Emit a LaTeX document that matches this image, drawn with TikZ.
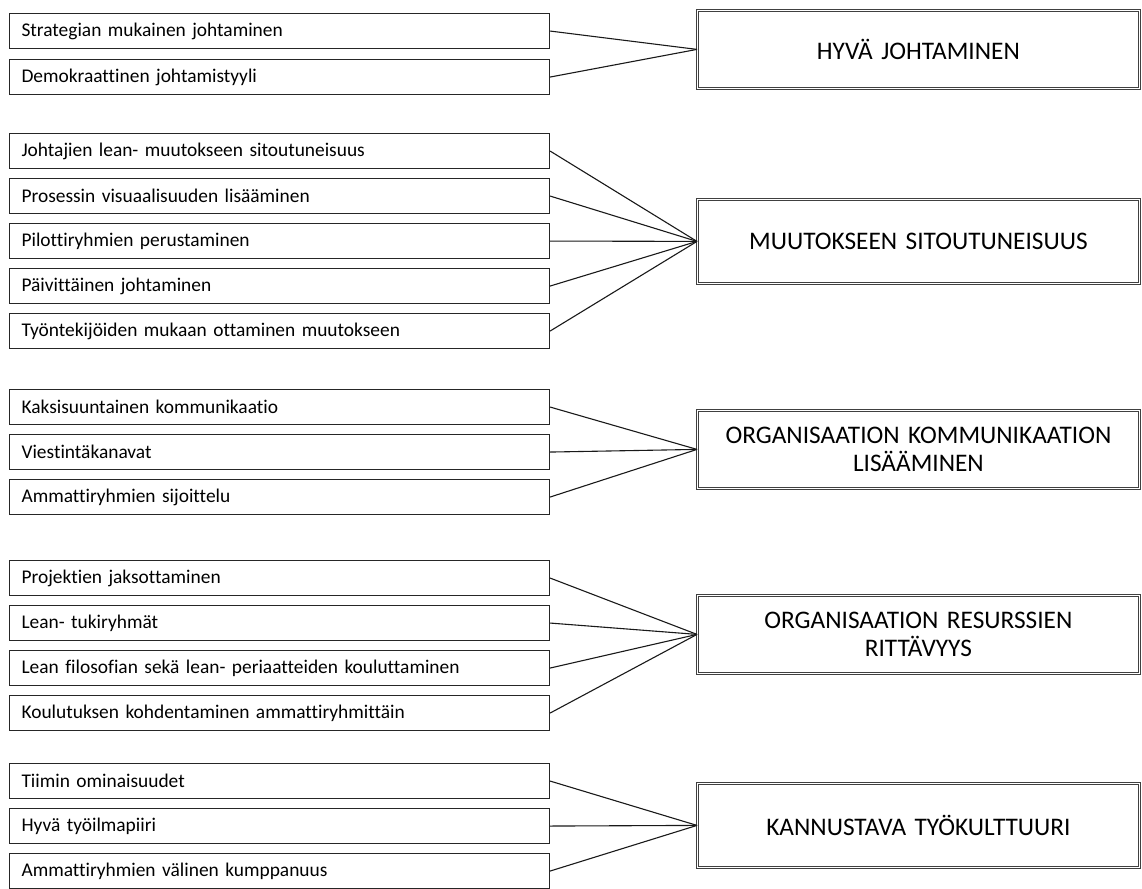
\documentclass[tikz,border=0pt]{standalone}
\usepackage{fontspec}
\setmainfont[Ligatures=CommonOff]{Carlito}
\begin{document}
\begin{tikzpicture}[x=1pt,y=-1pt,
  lbox/.style={draw=black!85,line width=1.1pt,anchor=north west,minimum width=540pt,minimum height=35pt,
    text width=516pt,align=left,inner xsep=11pt,font=\fontsize{19.4}{22}\selectfont},
  rbox/.style={draw=black!75,double=white,double distance=1.6pt,line width=0.8pt,anchor=north west,
    minimum width=442pt,text width=430pt,align=center,font=\fontsize{25.3}{28}\selectfont},
  conn/.style={draw=black!90,line width=1.1pt}]
\useasboundingbox (0,0) rectangle (1142,888);
% group 1
\node[lbox] (a1) at (9,13) {Strategian mukainen johtaminen};
\node[lbox] (a2) at (9,59) {Demokraattinen johtamistyyli};
\node[rbox,minimum height=78pt] (A) at (697,10) {HYVÄ JOHTAMINEN};
% group 2
\node[lbox] (b1) at (9,133) {Johtajien lean- muutokseen sitoutuneisuus};
\node[lbox] (b2) at (9,178) {Prosessin visuaalisuuden lisääminen};
\node[lbox] (b3) at (9,223) {Pilottiryhmien perustaminen};
\node[lbox] (b4) at (9,268) {Päivittäinen johtaminen};
\node[lbox] (b5) at (9,313) {Työntekijöiden mukaan ottaminen muutokseen};
\node[rbox,minimum height=84pt] (B) at (697,199) {MUUTOKSEEN SITOUTUNEISUUS};
% group 3
\node[lbox] (c1) at (9,389) {Kaksisuuntainen kommunikaatio};
\node[lbox] (c2) at (9,434) {Viestintäkanavat};
\node[lbox] (c3) at (9,479) {Ammattiryhmien sijoittelu};
\node[rbox,minimum height=78pt] (C) at (697,410) {ORGANISAATION KOMMUNIKAATION\\LISÄÄMINEN};
% group 4
\node[lbox] (d1) at (9,560) {Projektien jaksottaminen};
\node[lbox] (d2) at (9,605) {Lean- tukiryhmät};
\node[lbox] (d3) at (9,650) {Lean filosofian sekä lean- periaatteiden kouluttaminen};
\node[lbox] (d4) at (9,695) {Koulutuksen kohdentaminen ammattiryhmittäin};
\node[rbox,minimum height=78pt] (D) at (697,595) {ORGANISAATION RESURSSIEN\\RITTÄVYYS};
% group 5
\node[lbox] (e1) at (9,763) {Tiimin ominaisuudet};
\node[lbox] (e2) at (9,808) {Hyvä työilmapiiri};
\node[lbox] (e3) at (9,853) {Ammattiryhmien välinen kumppanuus};
\node[rbox,minimum height=84pt] (E) at (697,783) {KANNUSTAVA TYÖKULTTUURI};
% connectors
\foreach \s in {a1,a2} \draw[conn] (\s.east) -- (A.west);
\foreach \s in {b1,b2,b3,b4,b5} \draw[conn] (\s.east) -- (B.west);
\foreach \s in {c1,c2,c3} \draw[conn] (\s.east) -- (C.west);
\foreach \s in {d1,d2,d3,d4} \draw[conn] (\s.east) -- (D.west);
\foreach \s in {e1,e2,e3} \draw[conn] (\s.east) -- (E.west);
\end{tikzpicture}
\end{document}
